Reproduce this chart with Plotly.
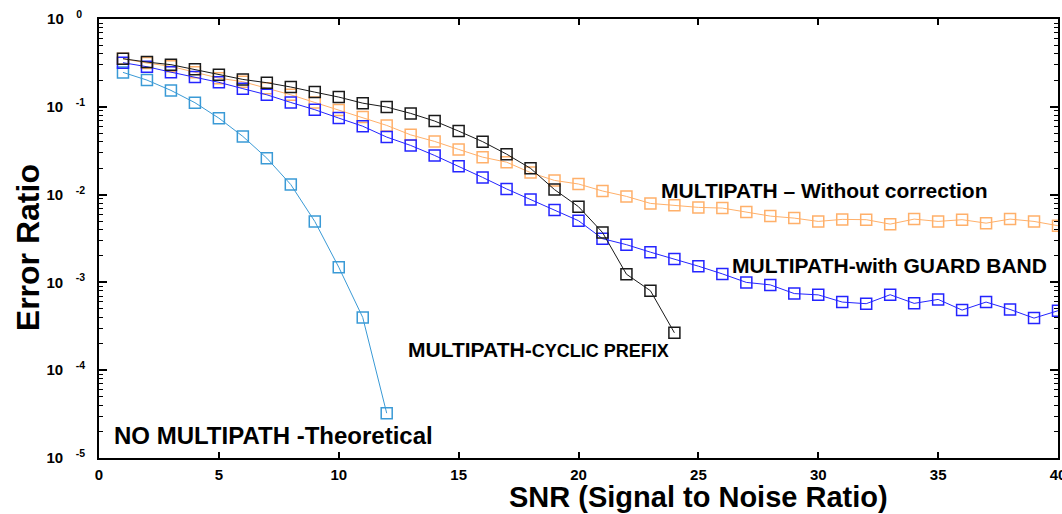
import plotly.graph_objects as go

# ---------------- data ----------------
snr_theory = list(range(1, 13))
ber_theory = [0.2466, 0.2014, 0.1538, 0.1114, 0.0743, 0.0460, 0.0260, 0.0130,
              0.00495, 0.00149, 0.000399, 3.24e-5]

snr_cp = list(range(1, 25))
ber_cp = [0.353, 0.323, 0.302, 0.267, 0.232, 0.205, 0.188, 0.168, 0.147, 0.129,
          0.110, 0.0993, 0.0841, 0.0688, 0.0529, 0.0401, 0.0289, 0.0199, 0.0114,
          0.00728, 0.00371, 0.00124, 0.000804, 0.000267]

snr_mp = list(range(1, 41))
ber_nocorr = [0.353, 0.315, 0.289, 0.248, 0.212, 0.193, 0.163, 0.137, 0.112, 0.0917,
              0.0763, 0.0614, 0.0479, 0.0403, 0.0327, 0.0267, 0.0234, 0.0178, 0.0145, 0.0132,
              0.0110, 0.00954, 0.00794, 0.00754, 0.00715, 0.00702, 0.00632, 0.00569, 0.00540, 0.00495,
              0.00522, 0.00518, 0.00461, 0.00526, 0.00495, 0.00518, 0.00473, 0.00526, 0.00495, 0.00442]
ber_guard = [0.318, 0.286, 0.248, 0.218, 0.190, 0.161, 0.137, 0.112, 0.0927, 0.0744,
             0.0601, 0.0452, 0.0363, 0.0279, 0.0211, 0.0157, 0.0116, 0.00882, 0.00666, 0.00504,
             0.00315, 0.00269, 0.00221, 0.00185, 0.00153, 0.00125, 0.00100, 0.000937, 0.000746, 0.000721,
             0.000597, 0.000572, 0.000724, 0.000577, 0.000640, 0.000484, 0.000597, 0.000492, 0.000392, 0.000476]

x_ticks = [0, 5, 10, 15, 20, 25, 30, 35, 40]
y_tickvals = [1, 1e-1, 1e-2, 1e-3, 1e-4, 1e-5]
y_ticktext = ["10&nbsp;&nbsp;&nbsp;<sup>0&nbsp;</sup>", "10&nbsp;&nbsp;&nbsp;<sup>-1</sup>",
              "10&nbsp;&nbsp;&nbsp;<sup>-2</sup>", "10&nbsp;&nbsp;&nbsp;<sup>-3</sup>",
              "10&nbsp;&nbsp;&nbsp;<sup>-4</sup>", "10&nbsp;&nbsp;&nbsp;<sup>-5</sup>"]

label_nocorr = "MULTIPATH – Without correction"
label_guard = "MULTIPATH-with GUARD BAND"
label_cp = "MULTIPATH-<span style='font-size:18px'>CYCLIC PREFIX</span>"
label_theory = "NO MULTIPATH -Theoretical"
x_title = "SNR (Signal to Noise Ratio)"
y_title = "Error Ratio"

FONT = "Liberation Sans, Arial, Helvetica, sans-serif"

fig = go.Figure()


def add_series(x, y, color):
    fig.add_trace(go.Scatter(
        x=x, y=y, mode="lines+markers",
        line=dict(color=color, width=1),
        marker=dict(symbol="square-open", size=11, color=color, line=dict(width=1.5, color=color)),
        showlegend=False, hoverinfo="skip"))


add_series(snr_theory, ber_theory, "#3a9ad6")
add_series(snr_mp, ber_nocorr, "#ffb06a")
add_series(snr_mp, ber_guard, "#2424ff")
add_series(snr_cp, ber_cp, "#1a1a1a")

tickfont = dict(family=FONT, size=15, color="black", weight="bold")

fig.update_layout(
    width=1062, height=514,
    margin=dict(l=99, r=4, t=19, b=56, autoexpand=False),
    paper_bgcolor="white", plot_bgcolor="white",
    showlegend=False,
    font=dict(family=FONT, color="black"),
    xaxis=dict(range=[0, 40], tickvals=x_ticks, ticks="inside", ticklen=6, tickwidth=1.5,
               tickcolor="black", showline=True, linewidth=2, linecolor="black", mirror="allticks",
               showgrid=False, zeroline=False, tickfont=tickfont, ticklabelstandoff=2,
               ticklabeloverflow="allow", automargin=False),
    yaxis=dict(type="log", range=[-5, 0], tickvals=y_tickvals, ticktext=y_ticktext,
               ticks="inside", ticklen=8, tickwidth=1.5, tickcolor="black",
               minor=dict(ticks="inside", ticklen=4, tickwidth=1, tickcolor="black",
                          dtick="D1", showgrid=False),
               showline=True, linewidth=2, linecolor="black", mirror="allticks",
               showgrid=False, zeroline=False, tickfont=tickfont, ticklabelstandoff=9,
               ticklabeloverflow="allow", automargin=False),
)

ann_font = dict(family=FONT, color="black", weight="bold")
annotations = [
    dict(text=label_nocorr, x=23.36, y=-1.958, xref="x", yref="y", xanchor="left", yanchor="middle",
         showarrow=False, font=dict(ann_font, size=21)),
    dict(text=label_guard, x=26.32, y=-2.806, xref="x", yref="y", xanchor="left", yanchor="middle",
         showarrow=False, font=dict(ann_font, size=21)),
    dict(text=label_cp, x=12.8, y=-3.763, xref="x", yref="y", xanchor="left", yanchor="middle",
         showarrow=False, font=dict(ann_font, size=21)),
    dict(text=label_theory, x=0.54, y=-4.743, xref="x", yref="y", xanchor="left", yanchor="middle",
         showarrow=False, font=dict(ann_font, size=24)),
    dict(text=x_title, x=0.4254, y=-0.0888, xref="paper", yref="paper", xanchor="left", yanchor="middle",
         showarrow=False, font=dict(ann_font, size=29)),
    dict(text=y_title, x=-0.074, y=0.478, xref="paper", yref="paper", xanchor="center", yanchor="middle",
         textangle=-90, showarrow=False, font=dict(ann_font, size=32)),
]
fig.update_layout(annotations=annotations)

fig.write_html("out.html", config={"displayModeBar": False},
               post_script="document.body.style.margin='0';document.body.style.overflow='hidden';")
